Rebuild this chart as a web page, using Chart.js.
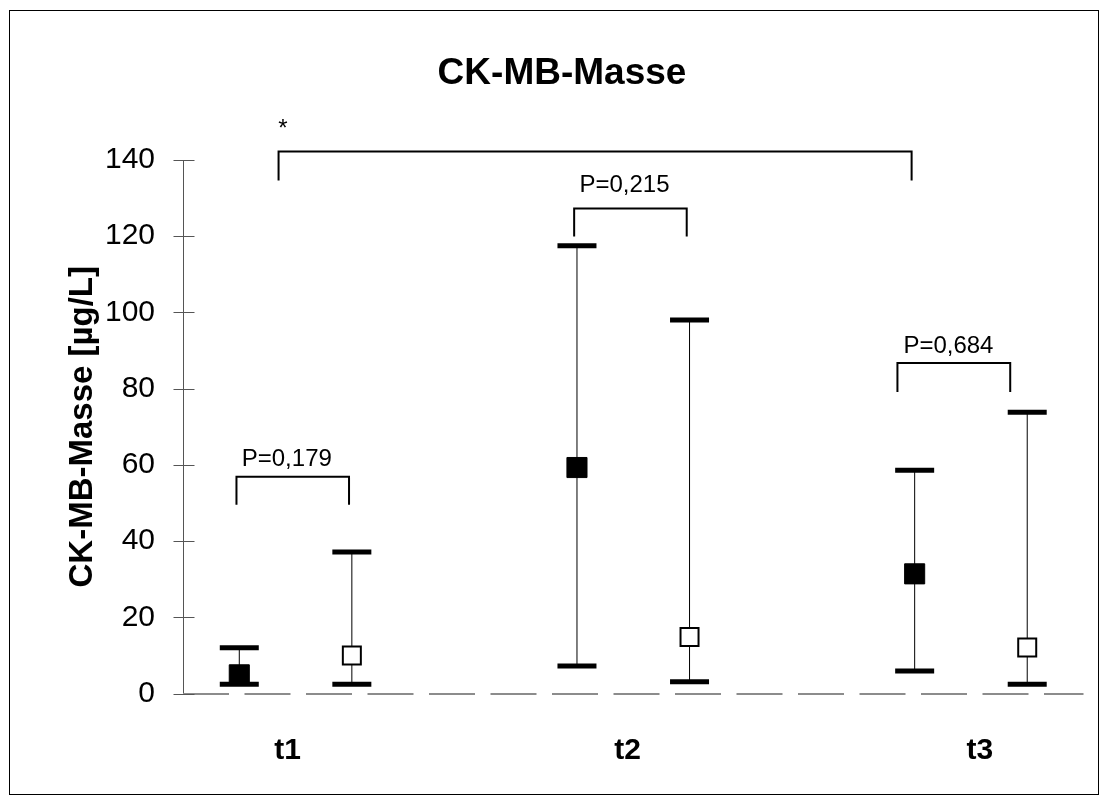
<!DOCTYPE html>
<html>
<head>
<meta charset="utf-8">
<script src="https://cdn.jsdelivr.net/npm/chart.js@4/dist/chart.umd.min.js"></script>
<style>
  body { margin: 0; background: #fff; }
  canvas { display: block; }
</style>
</head>
<body>
<canvas id="chart" width="1108" height="805"></canvas>
<script>
// Groupes (zeitpunkte) et positions sur l'axe x
const groups = ["t1", "t2", "t3"];
const groupPos = [0.93, 3.95, 7.08];

// Série pleine (carrés noirs)
const filledX = [0.5, 3.5, 6.5];
const filledMedian = [4.9, 59.3, 31.4];
const filledMin = [2.4, 7.2, 5.9];
const filledMax = [12.0, 117.5, 58.6];

// Série vide (carrés blancs)
const openX = [1.5, 4.5, 7.5];
const openMedian = [10.0, 14.8, 12.1];
const openMin = [2.4, 3.1, 2.4];
const openMax = [37.1, 98.0, 73.8];

// Crochets de comparaison : début, fin, haut, bas
const bracketFrom = [0.849, 0.475, 3.475, 6.347];
const bracketTo = [6.473, 1.475, 4.475, 7.349];
const bracketTop = [142.2, 56.9, 127.3, 86.7];
const bracketLow = [134.6, 49.5, 119.9, 79.1];

// Textes des p-valeurs
const pTexts = ["*", "P=0,179", "P=0,215", "P=0,684"];
const pTextX = [0.887, 0.922, 3.922, 6.80];
const pTextY = [148.0, 61.5, 133.4, 91.0];

const yTicks = [0, 20, 40, 60, 80, 100, 120, 140];

const FONT = "'Liberation Sans', Arial, sans-serif";

// Construit les segments verticaux (null = coupure)
function whiskers(xs, mins, maxs) {
    const out = [];
    xs.forEach((x, i) => {
        out.push({ x: x, y: mins[i] }, { x: x, y: maxs[i] }, { x: x, y: null });
    });
    return out;
}

function caps(xs, mins, maxs) {
    const out = [];
    xs.forEach((x, i) => {
        out.push({ x: x, y: mins[i] }, { x: x, y: maxs[i] });
    });
    return out;
}

function brackets() {
    const out = [];
    bracketFrom.forEach((x1, i) => {
        const x2 = bracketTo[i];
        out.push(
            { x: x1, y: bracketLow[i] },
            { x: x1, y: bracketTop[i] },
            { x: x2, y: bracketTop[i] },
            { x: x2, y: bracketLow[i] },
            { x: x2, y: null }
        );
    });
    return out;
}

// Plugin : ligne zéro pointillée, graduations croisées, textes et cadre
const extras = {
    id: "extras",
    beforeDatasetsDraw(chart) {
        const ctx = chart.ctx;
        const y = chart.scales.y;
        const area = chart.chartArea;
        const py = Math.round(y.getPixelForValue(0));
        ctx.save();
        ctx.strokeStyle = "#8c8c8c";
        ctx.lineWidth = 2;
        ctx.setLineDash([46, 15.5]);
        ctx.beginPath();
        ctx.moveTo(area.left, py);
        ctx.lineTo(area.right, py);
        ctx.stroke();
        ctx.restore();
    },
    afterDraw(chart) {
        const ctx = chart.ctx;
        const x = chart.scales.x;
        const y = chart.scales.y;
        const left = Math.round(chart.chartArea.left) + 0.5;

        ctx.save();
        ctx.strokeStyle = "#555";
        ctx.lineWidth = 1;
        yTicks.forEach(v => {
            const py = Math.round(y.getPixelForValue(v)) + 0.5;
            ctx.beginPath();
            ctx.moveTo(left - 10, py);
            ctx.lineTo(left + 11, py);
            ctx.stroke();
        });

        ctx.fillStyle = "#000";
        ctx.textAlign = "center";
        ctx.textBaseline = "middle";
        ctx.font = "24px " + FONT;
        pTexts.forEach((t, i) => {
            ctx.fillText(t, x.getPixelForValue(pTextX[i]), y.getPixelForValue(pTextY[i]));
        });

        ctx.strokeStyle = "#000";
        ctx.strokeRect(9.5, 10.5, 1089, 784);
        ctx.restore();
    }
};

new Chart(document.getElementById("chart"), {
    type: "scatter",
    data: {
        datasets: [
            {
                label: "median pleine",
                data: filledX.map((x, i) => ({ x: x, y: filledMedian[i] })),
                pointStyle: "rect",
                pointRadius: 14.2,
                backgroundColor: "#000",
                borderColor: "#000",
                borderWidth: 1,
                order: 0
            },
            {
                label: "median vide",
                data: openX.map((x, i) => ({ x: x, y: openMedian[i] })),
                pointStyle: "rect",
                pointRadius: 12.73,
                backgroundColor: "#fff",
                borderColor: "#000",
                borderWidth: 2,
                order: 0
            },
            {
                label: "caps",
                data: caps(filledX, filledMin, filledMax).concat(caps(openX, openMin, openMax)),
                pointStyle: "line",
                pointRadius: 19.5,
                borderColor: "#000",
                borderWidth: 5,
                order: 1
            },
            {
                label: "whiskers",
                data: whiskers(filledX, filledMin, filledMax).concat(whiskers(openX, openMin, openMax)),
                showLine: true,
                spanGaps: false,
                borderColor: "#000",
                borderWidth: 1,
                pointRadius: 0,
                order: 2
            },
            {
                label: "brackets",
                data: brackets(),
                showLine: true,
                spanGaps: false,
                borderColor: "#000",
                borderWidth: 2,
                pointRadius: 0,
                clip: false,
                order: 2
            }
        ]
    },
    options: {
        responsive: false,
        animation: false,
        events: [],
        layout: { padding: { left: 36, right: 20, top: 0, bottom: 0 } },
        plugins: {
            legend: { display: false },
            tooltip: { enabled: false },
            title: {
                display: true,
                text: "CK-MB-Masse",
                color: "#000",
                font: { family: FONT, size: 37, weight: "bold", lineHeight: 1 },
                padding: { top: 55, bottom: 68 }
            }
        },
        scales: {
            x: {
                type: "linear",
                min: 0,
                max: 8,
                afterBuildTicks: scale => {
                    scale.ticks = groupPos.map(v => ({ value: v }));
                },
                afterFit: scale => { scale.height = 111.5; },
                grid: { display: false, drawTicks: false },
                border: { display: false },
                ticks: {
                    callback: (v, i) => groups[i],
                    color: "#000",
                    padding: 39,
                    font: { family: FONT, size: 30, weight: "bold" },
                    maxRotation: 0
                }
            },
            y: {
                min: 0,
                max: 140,
                afterBuildTicks: scale => {
                    scale.ticks = yTicks.map(v => ({ value: v }));
                },
                afterFit: scale => { scale.width = 147; },
                grid: { display: false, drawTicks: false },
                border: { display: true, color: "#555", width: 1 },
                ticks: {
                    color: "#000",
                    padding: 28,
                    font: { family: FONT, size: 30 }
                },
                title: {
                    display: true,
                    text: "CK-MB-Masse [µg/L]",
                    color: "#000",
                    font: { family: FONT, size: 33, weight: "bold", lineHeight: 1.2 },
                    padding: { top: 27, bottom: 0 }
                }
            }
        }
    },
    plugins: [extras]
});
</script>
</body>
</html>
